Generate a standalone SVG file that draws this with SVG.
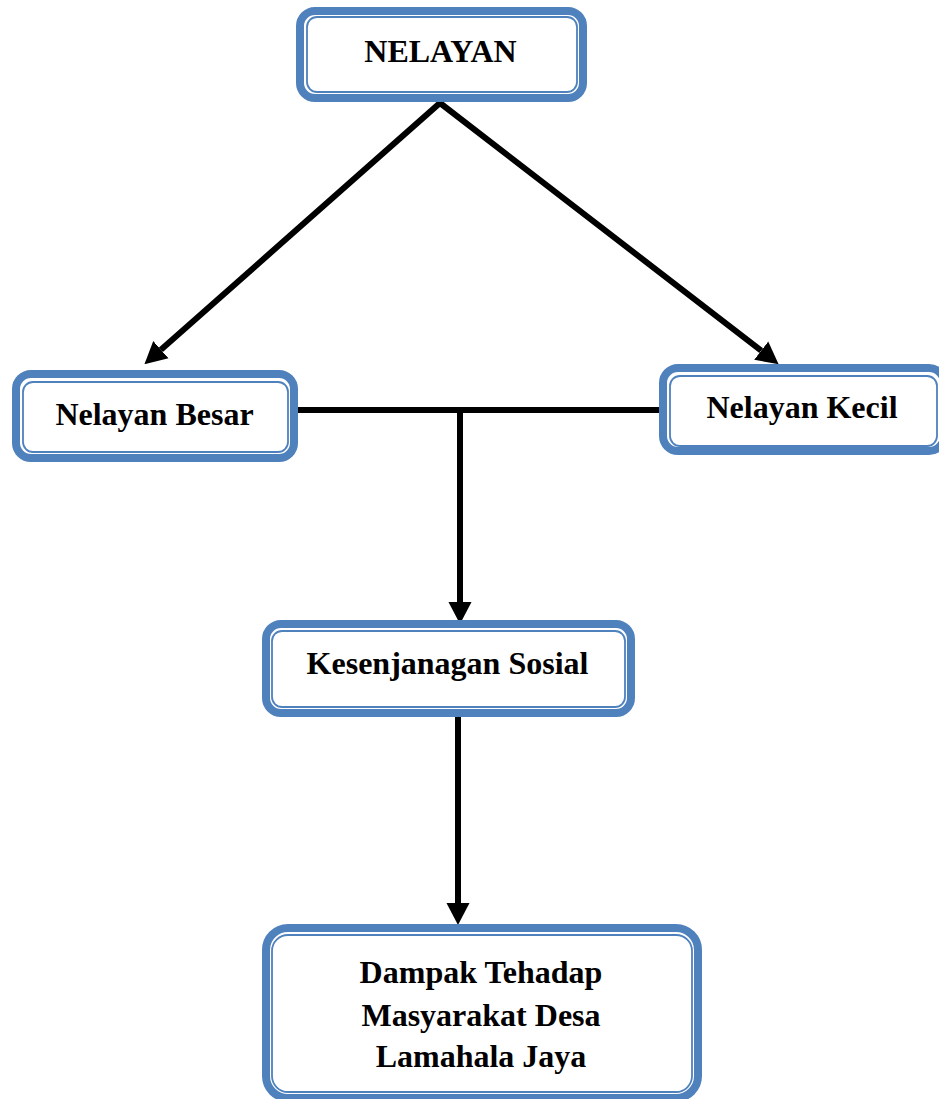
<svg xmlns="http://www.w3.org/2000/svg" width="939" height="1099" viewBox="0 0 939 1099">
<style>
.outer{fill:#fff;stroke:#4F81BD;stroke-width:8}
.inner{fill:none;stroke:#4F81BD;stroke-width:1.8}
.lbl{font-family:"Liberation Serif","Times New Roman",serif;font-weight:bold;font-size:32px;fill:#000;text-anchor:middle}
.conn{fill:none;stroke:#000;stroke-width:6;stroke-linejoin:miter;stroke-miterlimit:10}
</style>
<defs>
<marker id="arr" markerUnits="userSpaceOnUse" markerWidth="22" markerHeight="24" refX="0" refY="11" orient="auto-start-reverse" viewBox="0 0 21 22">
<path d="M0,0 L21,11 L0,22 z" fill="#000"/>
</marker>
</defs>
<rect width="939" height="1099" fill="#fff"/>
<g id="connectors">
<path class="conn" d="M160.9,349.7 L440,103 L761.2,350.7" marker-start="url(#arr)" marker-end="url(#arr)"/>
<path class="conn" d="M298,410 L659,410"/>
<path class="conn" d="M460,410 L460,602" marker-end="url(#arr)"/>
<path class="conn" d="M458,717 L458,903" marker-end="url(#arr)"/>
</g>
<g id="nelayan">
<rect class="outer" x="300" y="11" width="283" height="87" rx="15"/>
<rect class="inner" x="307" y="17" width="270" height="75" rx="10"/>
<text class="lbl" x="440.5" y="62">NELAYAN</text>
</g>
<g id="nelayan-besar">
<rect class="outer" x="16" y="374" width="278" height="84" rx="15"/>
<rect class="inner" x="23" y="382" width="265" height="70" rx="10"/>
<text class="lbl" x="154.5" y="425">Nelayan Besar</text>
</g>
<g id="nelayan-kecil">
<rect class="outer" x="663" y="368" width="281" height="83" rx="15"/>
<rect class="inner" x="670" y="376" width="267" height="70" rx="10"/>
<text class="lbl" x="802" y="418">Nelayan Kecil</text>
</g>
<g id="kesenjangan">
<rect class="outer" x="266" y="624" width="365" height="89" rx="15"/>
<rect class="inner" x="272" y="631" width="353" height="76" rx="10"/>
<text class="lbl" x="447.5" y="674">Kesenjanagan Sosial</text>
</g>
<g id="dampak">
<rect class="outer" x="266" y="928" width="432" height="170" rx="22"/>
<rect class="inner" x="272" y="935" width="420" height="157" rx="16"/>
<text class="lbl" x="481" y="983">Dampak Tehadap</text>
<text class="lbl" x="481" y="1026">Masyarakat Desa</text>
<text class="lbl" x="481" y="1067">Lamahala Jaya</text>
</g>
</svg>
